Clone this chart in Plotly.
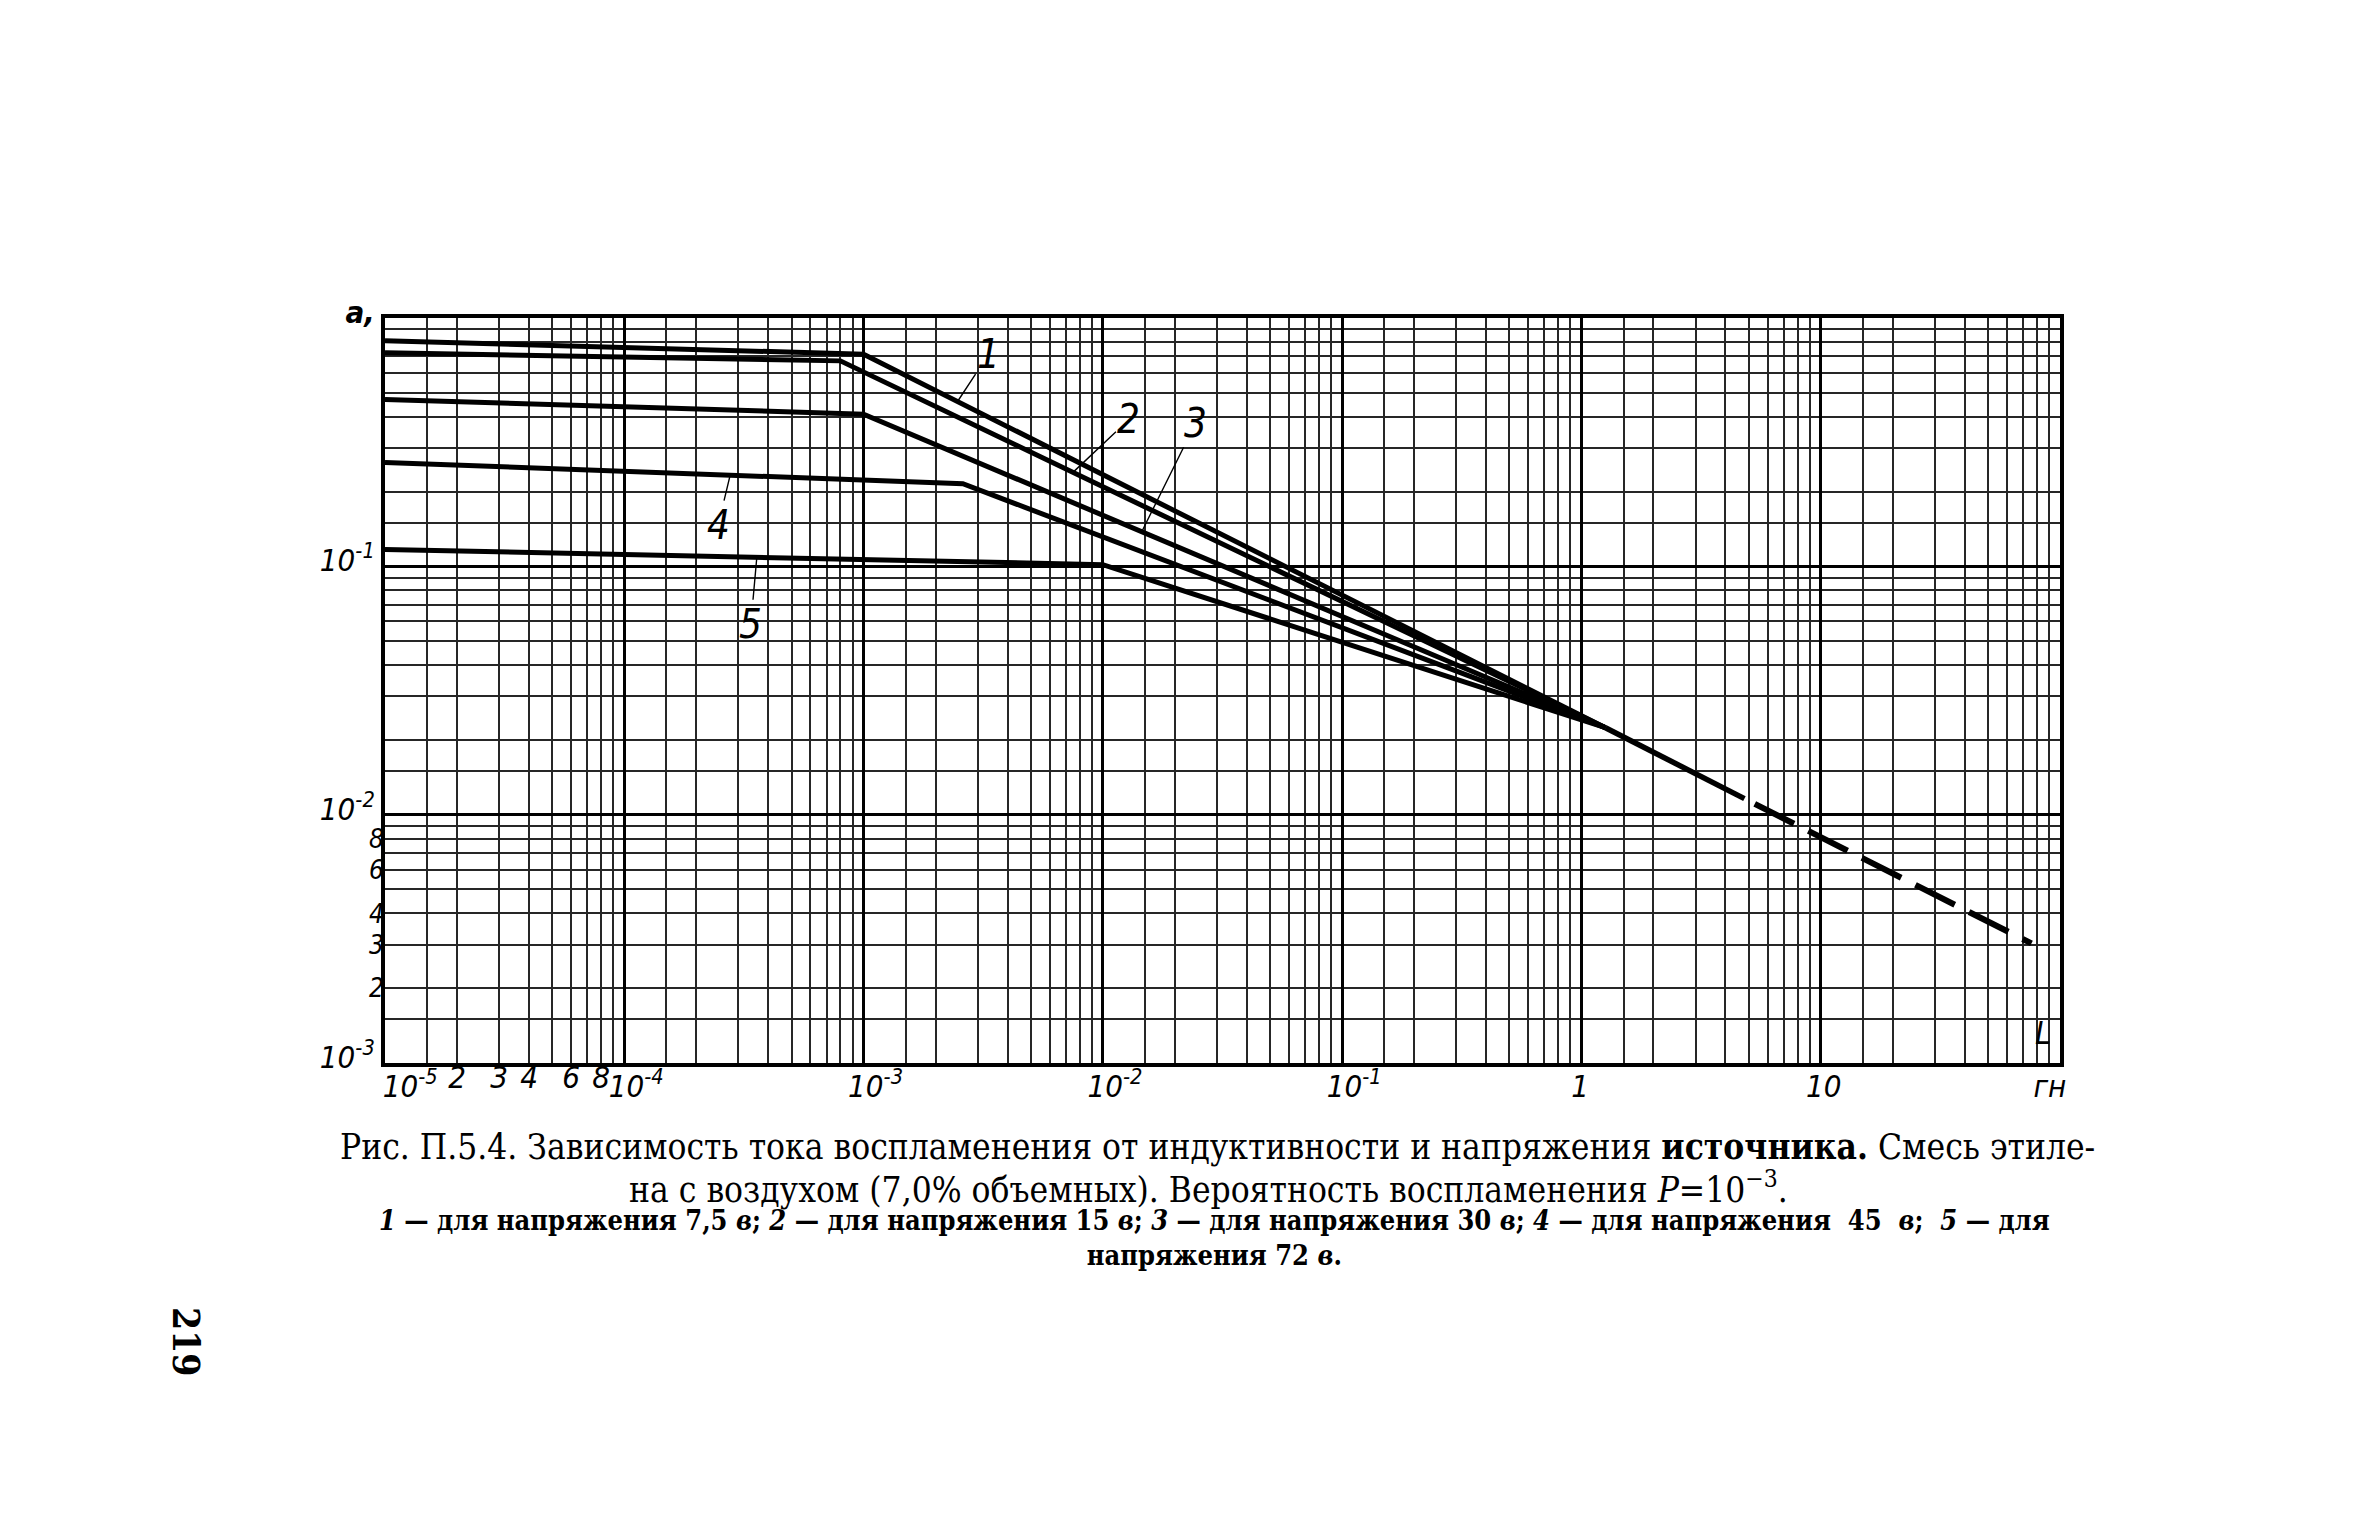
import numpy as np
import plotly.graph_objects as go

# ---------------- data ----------------
curve_labels = ["1", "2", "3", "4", "5"]
voltages_v = [7.5, 15, 30, 45, 72]

L_curve1 = [1e-5, 1.0e-3, 1.26]
I_curve1 = [0.81, 0.715, 0.0224]
L_curve2 = [1e-5, 8.0e-4, 1.26]
I_curve2 = [0.725, 0.672, 0.0224]
L_curve3 = [1e-5, 1.0e-3, 1.26]
I_curve3 = [0.47, 0.41, 0.0224]
L_curve4 = [1e-5, 2.6e-3, 1.26]
I_curve4 = [0.262, 0.215, 0.0224]
L_curve5 = [1e-5, 1.0e-2, 1.26]
I_curve5 = [0.117, 0.1016, 0.0224]

L_common_solid = [1.26, 4.8]
I_common_solid = [0.0224, 0.0116]
L_common_dash = [5.3, 76.0]
I_common_dash = [0.01105, 0.00303]

# where the numbered leader lines touch each curve (inductance, гн)
label_anchor_L = [2.47e-3, 7.5e-3, 1.454e-2, 2.77e-4, 3.58e-4]
label_offsets = [(31, -47), (56, -53), (54, -109), (-12, 50), (-6, 67)]

# axis ticks
NB = "\u00a0"
x_major_vals = [1e-5, 1e-4, 1e-3, 1e-2, 1e-1, 1, 10, 100]
x_major_text = [NB * 3 + "10<sup>-5</sup>", "10<sup>-4</sup>", "10<sup>-3</sup>", "10<sup>-2</sup>",
                "10<sup>-1</sup>", "1" + NB * 3, "10" + NB * 2, "гн" + NB * 5]
x_minor_label_vals = [2e-5, 3e-5, 4e-5, 6e-5, 8e-5]
x_minor_label_text = ["2", "3", "4", "6", "8"]

y_major_vals = [1e-3, 1e-2, 1e-1, 1]
y_major_text = ["10<sup>-3</sup>", "10<sup>-2</sup>", "10<sup>-1</sup>", "<b>а,</b>"]
y_minor_label_vals = [2e-3, 3e-3, 4e-3, 6e-3, 8e-3]
y_minor_label_text = ["2", "3", "4", "6", "8"]

grid_multipliers = [1.5, 2, 3, 4, 5, 6, 7, 8, 9]
x_decades = [1e-5, 1e-4, 1e-3, 1e-2, 1e-1, 1, 10]
y_decades = [1e-3, 1e-2, 1e-1]

caption_line1 = ("Рис. П.5.4. Зависимость тока воспламенения от индуктивности и напряжения "
                 "<b>источника.</b> Смесь этиле-")
caption_line2 = "на с воздухом (7,0% объемных). Вероятность воспламенения <i>P</i>=10<sup>−3</sup>."
caption_line3 = ("<i>1</i> — для напряжения 7,5 <i>в</i>; <i>2</i> — для напряжения 15 <i>в</i>; "
                 "<i>3</i> — для напряжения 30 <i>в</i>; <i>4</i> — для напряжения  45  <i>в</i>;  "
                 "<i>5</i> — для")
caption_line4 = "напряжения 72 <i>в</i>."
page_number = "219"

# ---------------- figure ----------------
W, H = 2362, 1535
ML, MR, MT, MB = 377, 310, 310, 480

TICK_FONT = "Liberation Sans Narrow, DejaVu Sans Condensed, DejaVu Sans, sans-serif"
SERIF = "DejaVu Serif Condensed, DejaVu Serif, Liberation Serif, serif"

fig = go.Figure()

curves = [(L_curve1, I_curve1), (L_curve2, I_curve2), (L_curve3, I_curve3),
          (L_curve4, I_curve4), (L_curve5, I_curve5)]
for (Ls, Is), name in zip(curves, curve_labels):
    fig.add_trace(go.Scatter(x=Ls, y=Is, mode="lines", name=name,
                             line=dict(color="black", width=5),
                             showlegend=False, hoverinfo="skip"))

fig.add_trace(go.Scatter(x=L_common_solid, y=I_common_solid, mode="lines",
                         line=dict(color="black", width=5.5),
                         showlegend=False, hoverinfo="skip"))
fig.add_trace(go.Scatter(x=L_common_dash, y=I_common_dash, mode="lines",
                         line=dict(color="black", width=6, dash="44px,16px"),
                         showlegend=False, hoverinfo="skip"))

# invisible trace to activate the overlay axes carrying the 2,3,4,6,8 labels
fig.add_trace(go.Scatter(x=[1e-5], y=[1e-3], xaxis="x2", yaxis="y2", mode="markers",
                         marker=dict(opacity=0), showlegend=False, hoverinfo="skip"))

minor_x = [m * d for d in x_decades for m in grid_multipliers]
minor_y = [m * d for d in y_decades for m in grid_multipliers]

tickfont = dict(family=TICK_FONT, size=31, color="black")
small_tickfont = dict(family=TICK_FONT, size=26, color="black")

fig.update_layout(
    width=W, height=H, autosize=False,
    paper_bgcolor="white", plot_bgcolor="white",
    margin=dict(l=ML, r=MR, t=MT, b=MB, pad=0),
    xaxis=dict(type="log", range=[-5, 2], tickmode="array",
               tickvals=x_major_vals, ticktext=["<i>%s</i>" % t for t in x_major_text],
               tickfont=tickfont, ticks="", ticklabelshift=12, ticklabelstandoff=-7,
               showgrid=True, gridcolor="black", gridwidth=3,
               showline=True, mirror=True, linecolor="black", linewidth=4, zeroline=False,
               minor=dict(tickvals=minor_x, showgrid=True, gridcolor="#262626", gridwidth=1.6,
                          ticks="")),
    yaxis=dict(type="log", range=[-3, 0], tickmode="array",
               tickvals=y_major_vals, ticktext=["<i>%s</i>" % t for t in y_major_text],
               tickfont=tickfont, ticks="", ticklabelshift=-6,
               showgrid=True, gridcolor="black", gridwidth=3,
               showline=True, mirror=True, linecolor="black", linewidth=4, zeroline=False,
               minor=dict(tickvals=minor_y, showgrid=True, gridcolor="#262626", gridwidth=1.6,
                          ticks="")),
    xaxis2=dict(type="log", range=[-5, 2], overlaying="x", anchor="y2", side="bottom",
                tickmode="array", tickvals=x_minor_label_vals,
                ticktext=["<i>%s</i>" % t for t in x_minor_label_text],
                tickfont=tickfont, ticks="", ticklabelstandoff=-7,
                showgrid=False, showline=False, zeroline=False),
    yaxis2=dict(type="log", range=[-3, 0], overlaying="y", anchor="x2", side="left",
                tickmode="array", tickvals=y_minor_label_vals,
                ticktext=["<i>%s</i>" % t for t in y_minor_label_text],
                tickfont=small_tickfont, ticks="", showgrid=False, showline=False, zeroline=False),
)

# numbered curve labels with leader lines
for (Ls, Is), name, La, (ax, ay) in zip(curves, curve_labels, label_anchor_L, label_offsets):
    ly = np.interp(np.log10(La), np.log10(Ls), np.log10(Is))
    fig.add_annotation(x=np.log10(La), y=ly, xref="x", yref="y", text="<i>%s</i>" % name,
                       showarrow=True, arrowhead=0, arrowwidth=1.4, arrowcolor="black",
                       ax=ax, ay=ay, standoff=0,
                       font=dict(family=TICK_FONT, size=40, color="black"))

# axis name L at bottom right
fig.add_annotation(x=0.996, y=0.012, xref="paper", yref="paper", xanchor="right", yanchor="bottom",
                   text="<i>L</i>", showarrow=False,
                   font=dict(family=TICK_FONT, size=32, color="black"))

pw = W - ML - MR
ph = H - MT - MB


def px(X):
    return (X - ML) / pw


def py(Y):
    return (H - MB - Y) / ph


fig.add_annotation(x=px(1209), y=py(1138), xref="paper", yref="paper", text=caption_line1,
                   showarrow=False, xanchor="center", yanchor="middle",
                   font=dict(family=SERIF, size=35, color="black"))
fig.add_annotation(x=px(1200), y=py(1179), xref="paper", yref="paper", text=caption_line2,
                   showarrow=False, xanchor="center", yanchor="middle",
                   font=dict(family=SERIF, size=35, color="black"))
fig.add_annotation(x=px(1206), y=py(1230), xref="paper", yref="paper",
                   text="<b>%s<br>%s</b>" % (caption_line3, caption_line4),
                   showarrow=False, xanchor="center", yanchor="middle", align="center",
                   font=dict(family=SERIF, size=27, color="black"))
fig.add_annotation(x=px(178), y=py(1333), xref="paper", yref="paper", text="<b>%s</b>" % page_number,
                   showarrow=False, xanchor="center", yanchor="middle", textangle=90,
                   font=dict(family=SERIF, size=37, color="black"))

fig.write_html("out.html")
